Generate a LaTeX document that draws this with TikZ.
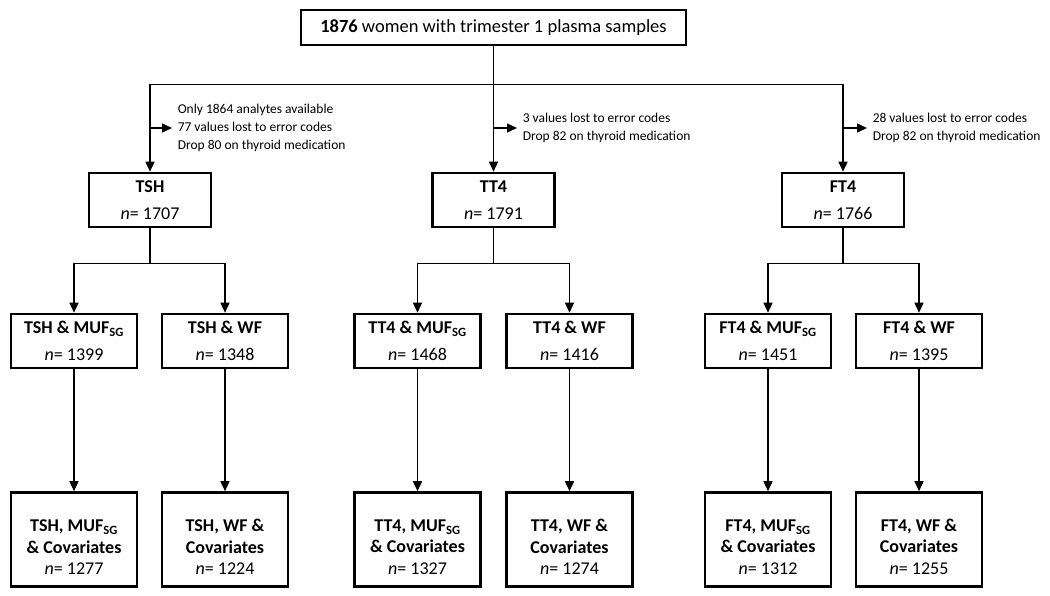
\documentclass[tikz,border=0pt]{standalone}
\usepackage{fontspec}
\setmainfont{Carlito}
\usetikzlibrary{positioning, arrows.meta}

\newcommand{\ncount}[1]{\mdseries\textit{n}= #1}

\tikzset{
    box/.style = {draw, line width=2.6pt, align=center, inner sep=0pt, font=\bfseries\fontsize{18}{26.5}\selectfont},
    topbox/.style = {box, minimum width=385pt, minimum height=35pt, font=\fontsize{18.5}{20}\selectfont},
    testbox/.style = {box, minimum width=122pt, minimum height=54pt},
    pairbox/.style = {box, minimum width=126pt, minimum height=54pt},
    covbox/.style = {box, minimum width=126pt, minimum height=94pt, text height=70pt,
        font=\bfseries\fontsize{18}{21.5}\selectfont},
    note/.style = {align=left, inner xsep=5pt, inner ysep=0pt, font=\fontsize{13.5}{18}\selectfont},
}

\begin{document}
\begin{tikzpicture}[x=1pt, y=-1pt, on grid, line width=1.5pt, >={Triangle[length=10pt, width=9pt]}]
    \useasboundingbox (0,0) rectangle (1050,595);

    \node[topbox] (top) at (493.5,27.5) {\textbf{1876} women with trimester 1 plasma samples};

    \node[testbox, below left=172.5pt and 343.5pt of top] (tsh) {TSH\\ \ncount{1707}};
    \node[testbox, below=172.5pt of top] (tt4) {TT4\\ \ncount{1791}};
    \node[testbox, below right=172.5pt and 349.5pt of top] (ft4) {FT4\\ \ncount{1766}};

    \node[note, anchor=west] (tshnote) at (172,128) {Only 1864 analytes available\\77 values lost to error codes\\Drop 80 on thyroid medication};
    \node[note, anchor=west] (tt4note) at (517,128) {3 values lost to error codes\\Drop 82 on thyroid medication};
    \node[note, anchor=west] (ft4note) at (867,128) {28 values lost to error codes\\Drop 82 on thyroid medication};

    \node[pairbox, below left=141pt and 76pt of tsh] (tshmuf) {TSH \& MUF\textsubscript{SG}\\ \ncount{1399}};
    \node[pairbox, below right=141pt and 75pt of tsh] (tshwf) {TSH \& WF\\ \ncount{1348}};
    \node[pairbox, below left=141pt and 76pt of tt4] (tt4muf) {TT4 \& MUF\textsubscript{SG}\\ \ncount{1468}};
    \node[pairbox, below right=141pt and 76pt of tt4] (tt4wf) {TT4 \& WF\\ \ncount{1416}};
    \node[pairbox, below left=141pt and 75pt of ft4] (ft4muf) {FT4 \& MUF\textsubscript{SG}\\ \ncount{1451}};
    \node[pairbox, below right=141pt and 76pt of ft4] (ft4wf) {FT4 \& WF\\ \ncount{1395}};

    \node[covbox, below=198.5pt of tshmuf] (tshmufcov) {TSH, MUF\textsubscript{SG}\\ \& Covariates\\ \ncount{1277}};
    \node[covbox, below=198.5pt of tshwf] (tshwfcov) {TSH, WF \&\\ Covariates\\ \ncount{1224}};
    \node[covbox, below=198.5pt of tt4muf] (tt4mufcov) {TT4, MUF\textsubscript{SG}\\ \& Covariates\\ \ncount{1327}};
    \node[covbox, below=198.5pt of tt4wf] (tt4wfcov) {TT4, WF \&\\ Covariates\\ \ncount{1274}};
    \node[covbox, below=198.5pt of ft4muf] (ft4mufcov) {FT4, MUF\textsubscript{SG}\\ \& Covariates\\ \ncount{1312}};
    \node[covbox, below=198.5pt of ft4wf] (ft4wfcov) {FT4, WF \&\\ Covariates\\ \ncount{1255}};

    % split of the whole cohort
    \draw (top.south) -- ++(0,38) coordinate (bus);
    \draw (tsh |- bus) -- (ft4 |- bus);
    \draw[->] (tsh |- bus) -- (tsh.north);
    \draw[->] (tt4 |- bus) -- (tt4.north);
    \draw[->] (ft4 |- bus) -- (ft4.north);

    % exclusions
    \draw[->] (tsh |- tshnote.west) -- (tshnote.west);
    \draw[->] (tt4 |- tt4note.west) -- (tt4note.west);
    \draw[->] (ft4 |- ft4note.west) -- (ft4note.west);

    % split by urine measure
    \draw[->] (tsh.south) -- ++(0,35) -| (tshmuf.north);
    \draw[->] (tsh.south) ++(0,35) -| (tshwf.north);
    \draw[->] (tt4.south) -- ++(0,35) -| (tt4muf.north);
    \draw[->] (tt4.south) ++(0,35) -| (tt4wf.north);
    \draw[->] (ft4.south) -- ++(0,35) -| (ft4muf.north);
    \draw[->] (ft4.south) ++(0,35) -| (ft4wf.north);

    \draw[->] (tshmuf) edge (tshmufcov)
    (tshwf) edge (tshwfcov)
    (tt4muf) edge (tt4mufcov)
    (tt4wf) edge (tt4wfcov)
    (ft4muf) edge (ft4mufcov)
    (ft4wf) edge (ft4wfcov);
\end{tikzpicture}
\end{document}
